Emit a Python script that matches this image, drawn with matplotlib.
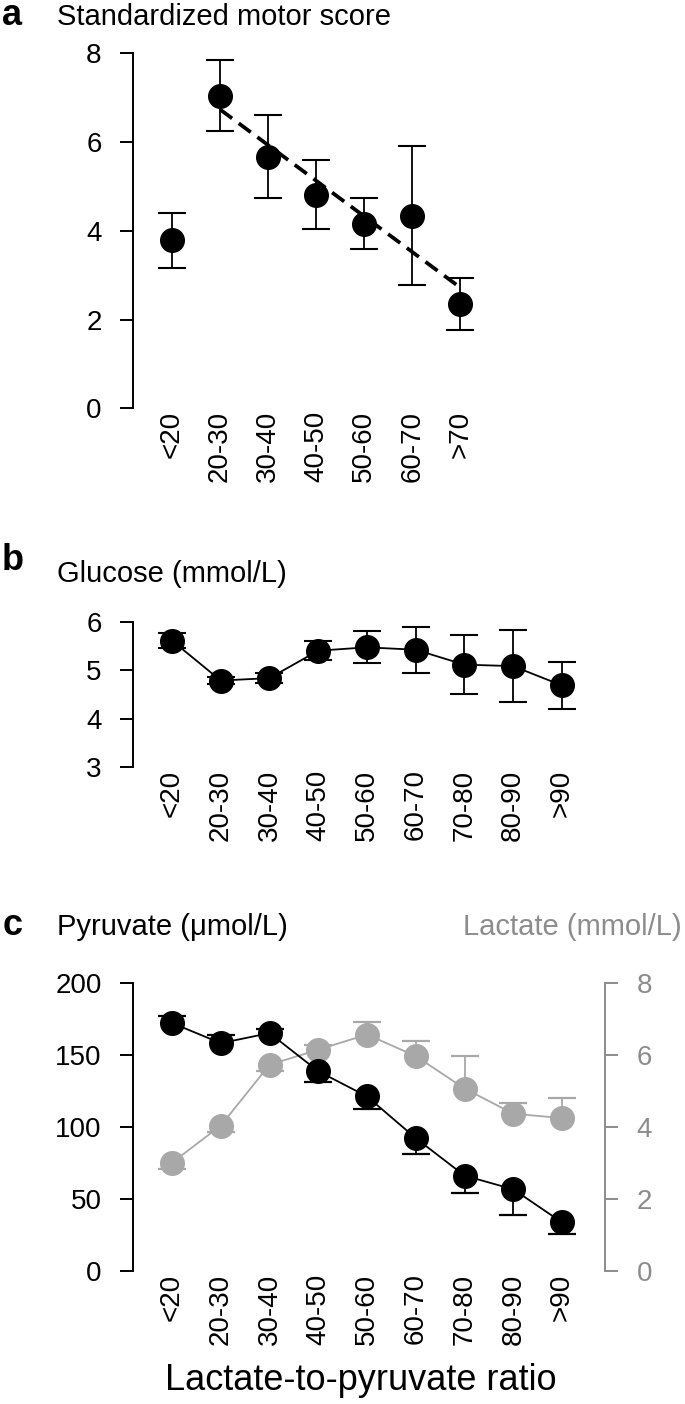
import matplotlib
matplotlib.use("Agg")
import matplotlib.pyplot as plt
import numpy as np

plt.rcParams['font.family'] = ['Liberation Sans', 'DejaVu Sans']

# ---------------- data ----------------
motor_labels = ["<20", "20-30", "30-40", "40-50", "50-60", "60-70", ">70"]
motor_mean = [3.79, 7.04, 5.67, 4.81, 4.16, 4.34, 2.35]
motor_err = [0.62, 0.80, 0.93, 0.78, 0.57, 1.56, 0.59]
motor_fit_from = 1  # regression over categories 20-30 .. >70

lpr_labels = ["<20", "20-30", "30-40", "40-50", "50-60", "60-70", "70-80", "80-90", ">90"]
glucose_mean = [5.62, 4.79, 4.84, 5.41, 5.48, 5.43, 5.12, 5.09, 4.69]
glucose_err = [0.16, 0.08, 0.11, 0.20, 0.33, 0.48, 0.61, 0.74, 0.49]

pyruvate_mean = [172, 158, 165, 138.5, 121, 92, 66, 56.5, 33.5]
pyruvate_err = [5, 5.5, 3, 7.5, 8.5, 11, 12, 18, 8]
pyruvate_side = [1, 1, 1, -1, -1, -1, -1, -1, -1]   # +1 upper bar, -1 lower bar

lactate_mean = [3.00, 4.03, 5.72, 6.14, 6.56, 5.96, 5.06, 4.36, 4.24]
lactate_err = [0.18, 0.17, 0.18, 0.12, 0.35, 0.42, 0.91, 0.31, 0.55]
lactate_side = [-1, -1, -1, 1, 1, 1, 1, 1, 1]

# ---------------- style ----------------
W, H = 685, 1404
fig = plt.figure(figsize=(W / 100, H / 100), dpi=100)

BLACK = "#000000"
GREY_MARK = "#a8a8a8"
GREY_AX = "#8c8c8c"
FS = 20
MS = 17
LW_AX = 1.4


def add_ax(left_px, top_px, bottom_px, width_px):
    return fig.add_axes([left_px / W, 1 - bottom_px / H, width_px / W,
                         (bottom_px - top_px) / H])


def style(ax, labels):
    for s in ("top", "right", "bottom"):
        ax.spines[s].set_visible(False)
    ax.spines["left"].set_linewidth(LW_AX)
    ax.tick_params(axis="y", length=9.6, width=LW_AX, pad=13, labelsize=FS)
    ax.tick_params(axis="x", length=0, pad=2, labelsize=FS)
    ax.set_xticks(range(len(labels)))
    ax.set_xticklabels(labels, rotation=90)


# ---------------- panel a ----------------
axa = add_ax(133, 53.3, 408.3, 356)
xa = np.arange(len(motor_labels))
axa.errorbar(xa, motor_mean, yerr=motor_err, fmt="o", color=BLACK, ms=MS,
             elinewidth=1.3, capsize=10.3, capthick=1.5, clip_on=False, zorder=3)
xf = xa[motor_fit_from:]
coef = np.polyfit(xf, np.array(motor_mean)[motor_fit_from:], 1)
axa.plot([xf[0], xf[-1]], np.polyval(coef, [xf[0], xf[-1]]), color=BLACK,
         lw=2.7, dashes=(4.0, 2.2), zorder=2)
axa.set_ylim(0, 8)
axa.set_yticks([0, 2, 4, 6, 8])
axa.set_xlim(-0.8125, 6.6)
style(axa, motor_labels)

# ---------------- panel b ----------------
axb = add_ax(133, 622.3, 766.7, 458)
xb = np.arange(len(lpr_labels))
axb.plot(xb, glucose_mean, color=BLACK, lw=1.3, zorder=2)
axb.errorbar(xb, glucose_mean, yerr=glucose_err, fmt="o", color=BLACK, ms=MS,
             elinewidth=1.3, capsize=10.3, capthick=1.5, clip_on=False, zorder=3)
axb.set_ylim(3, 6)
axb.set_yticks([3, 4, 5, 6])
axb.set_xlim(-0.8, 8.6)
style(axb, lpr_labels)

# ---------------- panel c ----------------
axc = add_ax(133, 982.7, 1270.7, 472)
axl = axc.twinx()
axc.set_zorder(axl.get_zorder() + 1)
axc.patch.set_visible(False)


def one_sided(ax, x, mean, err, side, color):
    mean = np.asarray(mean, float)
    end = mean + np.asarray(side) * np.asarray(err, float)
    ax.vlines(x, mean, end, color=color, lw=1.3, zorder=2)
    ax.plot(x, end, ls="none", marker="_", ms=20, mew=1.6, color=color,
            zorder=2, clip_on=False)


xc = np.arange(len(lpr_labels))
# lactate (grey, right axis)
one_sided(axl, xc, lactate_mean, lactate_err, lactate_side, GREY_MARK)
axl.plot(xc, lactate_mean, color=GREY_MARK, lw=1.3, zorder=2)
axl.plot(xc, lactate_mean, "o", color=GREY_MARK, ms=MS, zorder=3, clip_on=False)
axl.set_ylim(0, 8)
axl.set_yticks([0, 2, 4, 6, 8])
for s in ("top", "left", "bottom"):
    axl.spines[s].set_visible(False)
axl.spines["right"].set_linewidth(LW_AX)
axl.spines["right"].set_color(GREY_AX)
axl.tick_params(axis="y", length=9.6, width=LW_AX, pad=13, labelsize=FS,
                colors=GREY_AX)

# pyruvate (black, left axis)
one_sided(axc, xc, pyruvate_mean, pyruvate_err, pyruvate_side, BLACK)
axc.plot(xc, pyruvate_mean, color=BLACK, lw=1.3, zorder=2)
axc.plot(xc, pyruvate_mean, "o", color=BLACK, ms=MS, zorder=3, clip_on=False)
axc.set_ylim(0, 200)
axc.set_yticks([0, 50, 100, 150, 200])
axc.set_xlim(-0.8, 8.88)
style(axc, lpr_labels)


# ---------------- texts ----------------
def ftext(x, y, s, **kw):
    fig.text(x / W, 1 - y / H, s, va="baseline", **kw)


ftext(2, 25, "a", fontsize=26, fontweight="bold")
ftext(57, 25, "Standardized motor score", fontsize=21)
ftext(2, 570, "b", fontsize=26, fontweight="bold")
ftext(57, 582, "Glucose (mmol/L)", fontsize=21)
ftext(3, 935, "c", fontsize=26, fontweight="bold")
ftext(57, 935, "Pyruvate (\u03bcmol/L)", fontsize=21)
ftext(682, 935, "Lactate (mmol/L)", fontsize=21, color=GREY_AX, ha="right")
fig.text(361 / W, 1 - 1380 / H, "Lactate-to-pyruvate ratio", fontsize=26,
         ha="center", va="center")

fig.savefig("out.png", dpi=100)
